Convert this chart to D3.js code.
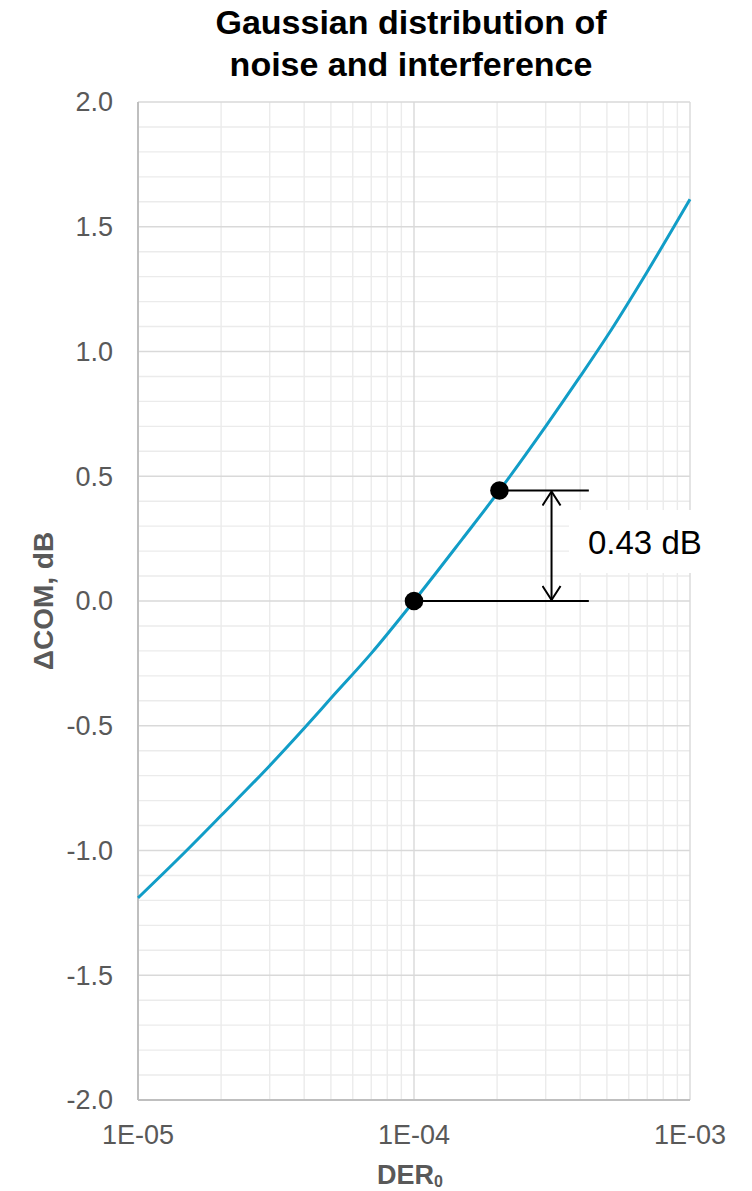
<!DOCTYPE html>
<html>
<head>
<meta charset="utf-8">
<script src="https://cdn.jsdelivr.net/npm/d3@7"></script>
<style>
  html, body { margin: 0; padding: 0; background: #fff; }
  svg text { font-family: "Liberation Sans", Arial, sans-serif; }
</style>
</head>
<body>
<div id="chart"></div>
<script>
// ΔCOM vs DER0 for Gaussian noise and interference.
const derValues = [1e-5, 1.5e-5, 2e-5, 3e-5, 4e-5, 5e-5, 7e-5, 1e-4, 1.5e-4, 2e-4, 3e-4, 4e-4, 5e-4, 7e-4, 1e-3];
const deltaCom = [-1.19, -1.00, -0.86, -0.66, -0.51, -0.39, -0.21, 0.00, 0.25, 0.43, 0.70, 0.90, 1.06, 1.32, 1.61];

const yTicks = [-2.0, -1.5, -1.0, -0.5, 0.0, 0.5, 1.0, 1.5, 2.0];
const xTicks = [1e-5, 1e-4, 1e-3];
const xTickLabels = ["1E-05", "1E-04", "1E-03"];

// annotated pair: reference point and the shifted point
const markerDer = [1e-4, 2.04e-4];
const markerCom = [0.00, 0.443];
const deltaLabel = "0.43 dB";

const width = 752, height = 1191;
const m = { top: 102, right: 62, bottom: 91, left: 138 };
const iw = width - m.left - m.right;
const ih = height - m.top - m.bottom;

const svg = d3.select("#chart").append("svg")
  .attr("width", width).attr("height", height).attr("viewBox", `0 0 ${width} ${height}`);
const defs = svg.append("defs");
defs.append("marker").attr("id", "openArrow").attr("viewBox", "0 0 16 20").attr("refX", 15).attr("refY", 10)
  .attr("markerWidth", 16).attr("markerHeight", 20).attr("markerUnits", "userSpaceOnUse").attr("orient", "auto-start-reverse")
  .append("path").attr("d", "M1,1 L15,10 L1,19").attr("fill", "none").attr("stroke", "#000").attr("stroke-width", 2);

const g = svg.append("g").attr("transform", `translate(${m.left},${m.top})`);

const x = d3.scaleLog().domain([1e-5, 1e-3]).range([0, iw]);
const y = d3.scaleLinear().domain([-2, 2]).range([ih, 0]);

// minor grid
const minorX = [];
[1e-5, 1e-4].forEach((dec) => { for (let k = 2; k <= 9; k++) minorX.push(dec * k); });
const minorY = d3.range(-20, 21).map((d) => d / 10).filter((d) => Math.abs(d * 2 - Math.round(d * 2)) > 1e-6);

g.append("g").selectAll("line").data(minorX).join("line")
  .attr("x1", (d) => x(d)).attr("x2", (d) => x(d)).attr("y1", 0).attr("y2", ih)
  .attr("stroke", "#ebebeb").attr("stroke-width", 1.4);
g.append("g").selectAll("line").data(minorY).join("line")
  .attr("x1", 0).attr("x2", iw).attr("y1", (d) => y(d)).attr("y2", (d) => y(d))
  .attr("stroke", "#ebebeb").attr("stroke-width", 1.4);

// major grid
g.append("g").selectAll("line").data(xTicks).join("line")
  .attr("x1", (d) => x(d)).attr("x2", (d) => x(d)).attr("y1", 0).attr("y2", ih)
  .attr("stroke", "#d9d9d9").attr("stroke-width", 1.4);
g.append("g").selectAll("line").data(yTicks).join("line")
  .attr("x1", 0).attr("x2", iw).attr("y1", (d) => y(d)).attr("y2", (d) => y(d))
  .attr("stroke", "#d9d9d9").attr("stroke-width", 1.4);

// axis lines
g.append("line").attr("x1", 0).attr("x2", 0).attr("y1", 0).attr("y2", ih).attr("stroke", "#bfbfbf").attr("stroke-width", 2);
g.append("line").attr("x1", 0).attr("x2", iw).attr("y1", ih).attr("y2", ih).attr("stroke", "#bfbfbf").attr("stroke-width", 2);

// tick labels
g.append("g").selectAll("text").data(yTicks).join("text")
  .attr("x", -25).attr("y", (d) => y(d)).attr("dy", "0.35em").attr("text-anchor", "end")
  .attr("font-size", 27).attr("fill", "#595959").text((d) => d.toFixed(1));
g.append("g").selectAll("text").data(xTicks).join("text")
  .attr("x", (d) => x(d)).attr("y", ih + 44).attr("text-anchor", "middle")
  .attr("font-size", 27).attr("fill", "#595959").text((d, i) => xTickLabels[i]);

// curve
const pts = derValues.map((d, i) => ({ der: d, v: deltaCom[i] }));
g.append("path").datum(pts).attr("fill", "none").attr("stroke", "#119dc7").attr("stroke-width", 3)
  .attr("d", d3.line().x((p) => x(p.der)).y((p) => y(p.v)).curve(d3.curveMonotoneX));

// annotation
const lineEnd = x(4.3e-4);
const arrowX = x(3.15e-4);
markerDer.forEach((d, i) => {
  g.append("line").attr("x1", x(d)).attr("x2", lineEnd).attr("y1", y(markerCom[i])).attr("y2", y(markerCom[i]))
    .attr("stroke", "#000").attr("stroke-width", 2);
});
g.append("line").attr("x1", arrowX).attr("x2", arrowX)
  .attr("y1", y(markerCom[1]) + 1).attr("y2", y(markerCom[0]) - 1)
  .attr("stroke", "#000").attr("stroke-width", 2)
  .attr("marker-start", "url(#openArrow)").attr("marker-end", "url(#openArrow)");
g.selectAll("circle.mk").data(markerDer).join("circle").attr("class", "mk")
  .attr("cx", (d) => x(d)).attr("cy", (d, i) => y(markerCom[i])).attr("r", 9.3).attr("fill", "#000");

g.append("rect").attr("x", 431).attr("y", 408).attr("width", 160).attr("height", 63).attr("fill", "#fff");
g.append("text").attr("x", 450).attr("y", 452)
  .attr("font-size", 33).attr("fill", "#000").text(deltaLabel);

// title
const title = svg.append("text").attr("text-anchor", "middle")
  .attr("font-size", 34).attr("font-weight", "bold").attr("fill", "#000");
title.append("tspan").attr("x", 411).attr("y", 34).text("Gaussian distribution of");
title.append("tspan").attr("x", 411).attr("y", 76).text("noise and interference");

// axis titles
svg.append("text").attr("transform", `translate(53,${m.top + ih / 2}) rotate(-90)`).attr("text-anchor", "middle")
  .attr("font-size", 28).attr("font-weight", "bold").attr("fill", "#595959").text("ΔCOM, dB");
const xt = svg.append("text").attr("x", 410).attr("y", 1184).attr("text-anchor", "middle")
  .attr("font-size", 27).attr("font-weight", "bold").attr("fill", "#595959");
xt.append("tspan").text("DER");
xt.append("tspan").attr("font-size", 16).attr("dy", 3).text("0");
</script>
</body>
</html>
